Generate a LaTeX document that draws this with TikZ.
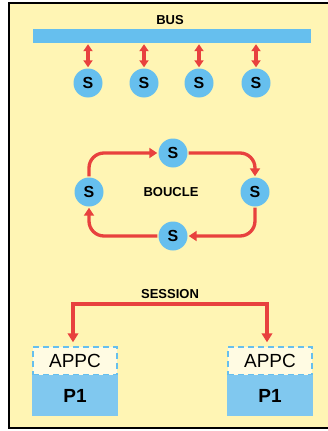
\documentclass[tikz,border=0pt]{standalone}
\usepackage{fontspec}
\setmainfont{Liberation Sans}
\usetikzlibrary{arrows.meta}
\definecolor{bgyel}{HTML}{FFF5B4}
\definecolor{sblue}{HTML}{66BFEE}
\definecolor{pblue}{HTML}{80C8EF}
\definecolor{cream}{HTML}{FFFBE3}
\definecolor{ared}{HTML}{E8413E}
\tikzset{
  snode/.style={circle, fill=sblue, minimum size=29pt, inner sep=0pt, font=\bfseries\fontsize{16}{16}\selectfont},
  lbl/.style={font=\bfseries\fontsize{13}{13}\selectfont, inner sep=0pt},
  arr/.style={draw=ared, line width=3.3pt, -{Triangle[length=8pt,width=10pt]}},
  dbl/.style={draw=ared, line width=3.3pt, {Triangle[length=7pt,width=9pt]}-{Triangle[length=7pt,width=9pt]}},
  sess/.style={draw=ared, line width=3.6pt, {Triangle[length=9pt,width=10.5pt]}-{Triangle[length=9pt,width=10.5pt]}},
  appcbox/.style={rectangle, draw=sblue, dash pattern=on 6pt off 4pt, line width=1.4pt, fill=cream, minimum width=84pt, minimum height=28pt, inner sep=0pt, font=\fontsize{19}{19}\selectfont},
  pbox/.style={rectangle, fill=pblue, minimum width=85.4pt, minimum height=41pt, inner sep=0pt, font=\bfseries\fontsize{19}{19}\selectfont}
}
\begin{document}
\begin{tikzpicture}[x=1pt,y=-1pt]
\useasboundingbox (0,0) rectangle (328,431);
\fill[white] (0,0) rectangle (328,431);
\fill[bgyel] (9,3) rectangle (332,428);
\draw[black, line width=2pt] (334,3) -- (9,3) -- (9,428) -- (334,428);

% BUS
\node[lbl] (buslbl) at (170,20) {BUS};
\node[rectangle, fill=sblue, minimum width=278pt, minimum height=14pt, inner sep=0pt] (bus) at (172,36) {};
\foreach \i/\x in {1/88,2/144,3/199,4/256}{
  \node[snode] (s\i) at (\x,83) {S};
  \draw[dbl, shorten <=1pt, shorten >=1pt] (s\i |- bus.south) -- (s\i.north);
}

% BOUCLE
\node[snode] (st) at (173,153) {S};
\node[snode] (sl) at (89,192) {S};
\node[snode] (sr) at (255,192) {S};
\node[snode] (sb) at (173,236) {S};
\node[lbl] (boucle) at (171,192) {BOUCLE};
\draw[arr, rounded corners=15pt, shorten <=1pt, shorten >=1pt] (sl.north) |- (st.west);
\draw[arr, rounded corners=15pt, shorten <=1pt, shorten >=1pt] (st.east) -| (sr.north);
\draw[arr, rounded corners=15pt, shorten <=1pt, shorten >=1pt] (sr.south) |- (sb.east);
\draw[arr, rounded corners=15pt, shorten <=1pt, shorten >=1pt] (sb.west) -| (sl.south);

% SESSION
\node[lbl] (session) at (170,294) {SESSION};
\node[appcbox] (a1) at (75,361) {APPC};
\node[pbox] (p1) at (75,395.5) {P1};
\node[appcbox] (a2) at (270,361) {APPC};
\node[pbox] (p2) at (270,395.5) {P1};
\coordinate (sesstop) at (170,304);
\draw[sess, shorten <=4pt, shorten >=4pt] ([xshift=-2pt]a1.north) |- (sesstop) -| ([xshift=-3pt]a2.north);
\end{tikzpicture}
\end{document}
